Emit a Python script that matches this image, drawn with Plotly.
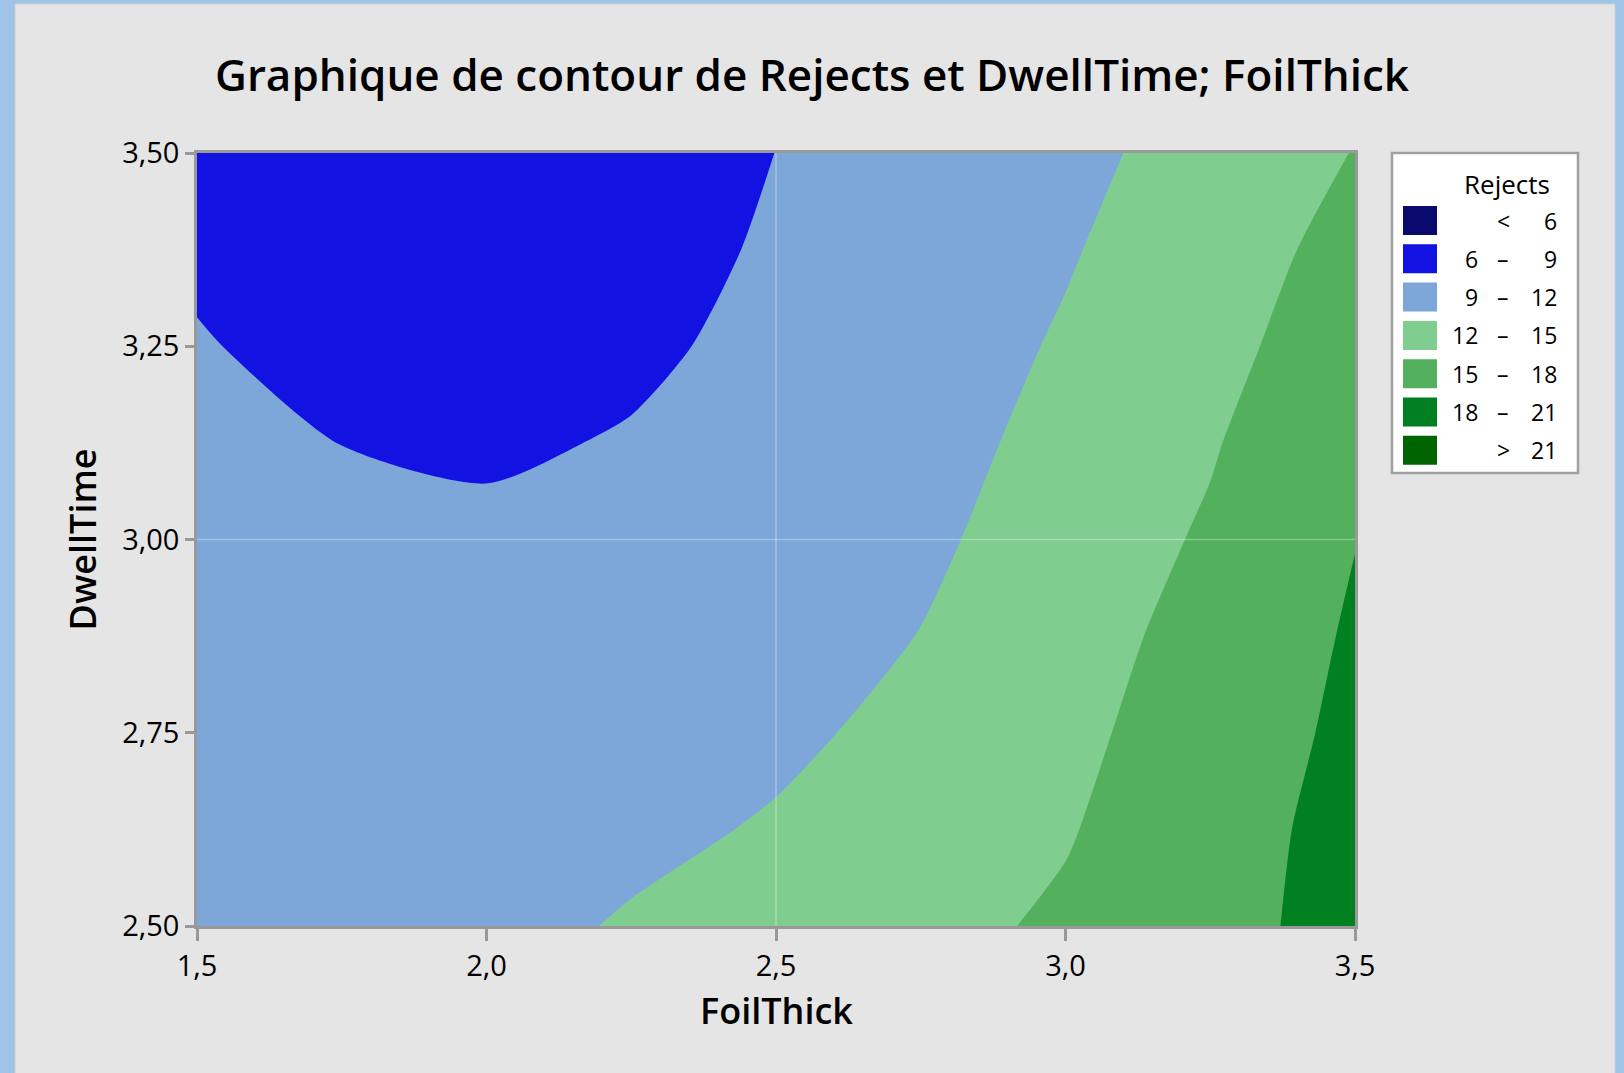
import plotly.graph_objects as go

# ---------------- data ----------------
foil_thick = [1.5, 1.75, 2.0, 2.25, 2.5, 2.75, 3.0, 3.25, 3.5]
dwell_time = [2.5, 2.625, 2.75, 2.875, 3.0, 3.125, 3.25, 3.375, 3.5]
# Rejects values (rows = DwellTime, cols = FoilThick)
rejects = [
    [10.6, 10.9, 11.3, 12.2, 13.1, 14.2, 15.4, 17.2, 18.85],
    [10.5, 10.7, 11.0, 11.5, 12.2, 13.35, 14.8, 16.9, 18.85],
    [10.35, 10.45, 10.65, 11.1, 11.6, 12.55, 14.2, 16.7, 18.49],
    [10.15, 10.1, 10.2, 10.6, 11.0, 12.05, 13.7, 16.1, 18.29],
    [9.9, 9.65, 9.55, 10.0, 10.5, 11.5, 13.3, 15.36, 17.95],
    [9.55, 8.98, 8.6, 9.2, 10.1, 11.1, 12.75, 14.76, 17.6],
    [9.15, 8.3, 7.9, 8.5, 9.7, 10.8, 12.25, 13.85, 17.2],
    [8.65, 7.6, 7.2, 7.9, 9.35, 10.55, 11.8, 13.47, 16.02],
    [8.1, 6.9, 6.6, 7.3, 9.02, 10.3, 11.5, 12.75, 15.1],
]
levels = [6, 9, 12, 15, 18, 21]
band_colors = ["#0a0a6e", "#1212e2", "#7da7d9", "#80cd90", "#53b05d", "#008020", "#006400"]
band_left = ["", "6", "9", "12", "15", "18", ""]
band_mid = ["<", "–", "–", "–", "–", "–", ">"]
band_right = ["6", "9", "12", "15", "18", "21", "21"]
x_ticks = [1.5, 2.0, 2.5, 3.0, 3.5]
y_ticks = [2.5, 2.75, 3.0, 3.25, 3.5]
ref_x = [2.5]
ref_y = [3.0]

title = "Graphique de contour de Rejects et DwellTime; FoilThick"
x_title = "FoilThick"
y_title = "DwellTime"
legend_title = "Rejects"

# ---------------- layout geometry ----------------
W, H = 1624, 1073
ML, MR, MT, MB = 197, 269, 153, 147
PW, PH = W - ML - MR, H - MT - MB


def px(x):
    return (x - ML) / PW


def py(y):
    return 1 - (y - MT) / PH


FONT = "Open Sans"
GREY_BG = "#e5e5e5"
BLUE_BG = "#9fc4e8"
AXIS = "#999999"

n = len(band_colors)
colorscale = [[i / (n - 1), c] for i, c in enumerate(band_colors)]

fig = go.Figure()
fig.add_trace(go.Contour(
    x=foil_thick, y=dwell_time, z=rejects,
    autocontour=False,
    contours=dict(start=levels[0], end=levels[-1], size=levels[1] - levels[0],
                  coloring="fill", showlines=False),
    colorscale=colorscale, showscale=False,
    line=dict(width=0, smoothing=0.7),
    hoverinfo="skip",
))

shapes = []
# outer frame: blue window border and grey panel
shapes.append(dict(type="rect", xref="paper", yref="paper", layer="below",
                   x0=px(15), x1=px(1615), y0=py(H + 5), y1=py(4),
                   fillcolor=GREY_BG, line=dict(color="#cfcfcf", width=1)))
# faint reference lines
for v in ref_x:
    shapes.append(dict(type="line", xref="x", yref="paper", x0=v, x1=v, y0=0, y1=1,
                       line=dict(color="rgba(255,255,255,0.30)", width=1.5), layer="above"))
for v in ref_y:
    shapes.append(dict(type="line", xref="paper", yref="y", x0=0, x1=1, y0=v, y1=v,
                       line=dict(color="rgba(255,255,255,0.30)", width=1.5), layer="above"))
# legend box
shapes.append(dict(type="rect", xref="paper", yref="paper", layer="above",
                   x0=px(1392), x1=px(1578), y0=py(473), y1=py(153),
                   fillcolor="white", line=dict(color="#a0a0a0", width=2.5)))

annotations = []
annotations.append(dict(text=legend_title, xref="paper", yref="paper", x=px(1507), y=py(184),
                        xanchor="center", yanchor="middle", showarrow=False,
                        font=dict(family=FONT, size=26, color="black", weight=500)))
row0, step = 220.5, 38.3
for i, col in enumerate(band_colors):
    cy = row0 + i * step
    shapes.append(dict(type="rect", xref="paper", yref="paper", layer="above",
                       x0=px(1403), x1=px(1437), y0=py(cy + 14.5), y1=py(cy - 14.5),
                       fillcolor=col, line=dict(width=0)))
    common = dict(xref="paper", yref="paper", y=py(cy), yanchor="middle", showarrow=False,
                  font=dict(family=FONT, size=23, color="black", weight=500))
    if band_left[i]:
        annotations.append(dict(text=band_left[i], x=px(1480), xanchor="right", **common))
    annotations.append(dict(text=band_mid[i], x=px(1503), xanchor="center", **common))
    annotations.append(dict(text=band_right[i], x=px(1559), xanchor="right", **common))

# axis titles
annotations.append(dict(text=x_title, xref="paper", yref="paper", x=0.5, y=py(1011),
                        xanchor="center", yanchor="middle", showarrow=False,
                        font=dict(family=FONT, size=36, color="black", weight=600)))
annotations.append(dict(text=y_title, xref="paper", yref="paper", x=px(82), y=py(539.5),
                        xanchor="center", yanchor="middle", showarrow=False, textangle=-90,
                        font=dict(family=FONT, size=36, color="black", weight=600)))

fig.update_layout(
    width=W, height=H,
    margin=dict(l=ML, r=MR, t=MT, b=MB, pad=0),
    paper_bgcolor=BLUE_BG,
    plot_bgcolor=GREY_BG,
    separators=", ",
    title=dict(text=title, x=0.5, xref="container", xanchor="center",
               y=1 - 76 / H, yref="container", yanchor="middle",
               font=dict(family=FONT, size=44, color="black", weight=600)),
    shapes=shapes,
    annotations=annotations,
    showlegend=False,
)
fig.update_xaxes(range=[1.5, 3.5], tickvals=x_ticks, tickformat=".1f",
                 showgrid=False, zeroline=False,
                 showline=True, linecolor=AXIS, linewidth=2.5, mirror=True,
                 ticks="outside", ticklen=12, tickwidth=2.5, tickcolor=AXIS,
                 tickfont=dict(family=FONT, size=29, color="black", weight=500))
fig.update_yaxes(range=[2.5, 3.5], tickvals=y_ticks, tickformat=".2f",
                 showgrid=False, zeroline=False,
                 showline=True, linecolor=AXIS, linewidth=2.5, mirror=True,
                 ticks="outside", ticklen=9, tickwidth=2.5, tickcolor=AXIS,
                 tickfont=dict(family=FONT, size=29, color="black", weight=500))

post = ("document.body.style.margin='0';document.body.style.padding='0';"
        "document.body.style.overflow='hidden';document.body.style.background='" + BLUE_BG + "';")
fig.write_html("out.html", post_script=post, config={"displayModeBar": False})
